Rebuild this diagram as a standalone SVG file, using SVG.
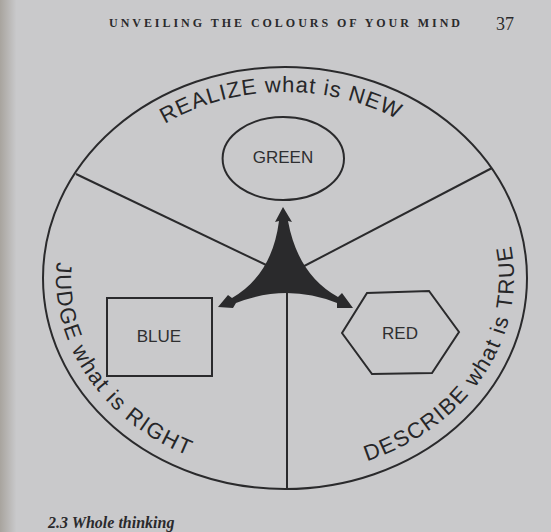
<svg xmlns="http://www.w3.org/2000/svg" width="551" height="532" viewBox="0 0 551 532">
  <defs>
    <style>
      .ln { fill: none; stroke: #2a2a2c; stroke-width: 2; }
      .shape { fill: none; stroke: #2a2a2c; stroke-width: 2; }
      .nodetxt { font-family: "Liberation Sans", Arial, sans-serif; font-size: 17px; fill: #2e2e30; text-anchor: middle; }
      .arc { font-family: "Liberation Sans", Arial, sans-serif; font-size: 22px; fill: #262628; font-kerning: none; }
      .ls { letter-spacing: 1.5px; }
    </style>
    <path id="pTop" d="M164.8,123.8 A215,186 0 0 1 449.7,158.4"/>
    <path id="pLeft" d="M56.8,262 A229,196 0 0 0 285,474"/>
    <path id="pRight" d="M367,461 A229,196 0 0 0 500.2,211"/>
    <linearGradient id="edge" x1="0" y1="0" x2="1" y2="0">
      <stop offset="0" stop-color="#a8a49e"/>
      <stop offset="1" stop-color="#c8c8ca"/>
    </linearGradient>
  </defs>

  <rect x="0" y="0" width="551" height="532" fill="#c9c9cb"/>
  <rect x="0" y="0" width="16" height="532" fill="url(#edge)"/>

  <g id="page-text">
    <text x="109" y="27" font-family="Liberation Serif, serif" font-weight="bold" font-size="12" fill="#2a2a2c" textLength="351" lengthAdjust="spacing">UNVEILING THE COLOURS OF YOUR MIND</text>
    <text x="496" y="30" font-family="Liberation Serif, serif" font-size="18" fill="#2a2a2c">37</text>
    <text x="48" y="528" font-family="Liberation Serif, serif" font-weight="bold" font-style="italic" font-size="16" fill="#2a2a2c">2.3 Whole thinking</text>
  </g>

  <g id="wheel">
    <ellipse class="shape" cx="285" cy="278" rx="242" ry="211"/>
  </g>

  <g id="connectors">
    <line class="ln" x1="76" y1="174" x2="287" y2="275"/>
    <line class="ln" x1="492" y1="168" x2="287" y2="275"/>
    <line class="ln" x1="287" y1="275" x2="287" y2="489"/>
  </g>

  <g id="hub">
    <path fill="#2a2a2c" d="M283,207 L292,222 L288,221 Q298,275 338,297 L342,293 L353,308 L337,308 L337,303 Q287,283 236,303 L233,308 L218,307 L228,295 L232,298 Q272,275 279,221 L275,222 Z"/>
  </g>

  <g id="node-green">
    <ellipse class="shape" cx="283.3" cy="158.5" rx="60.7" ry="41.5"/>
    <text class="nodetxt" x="283" y="163">GREEN</text>
  </g>

  <g id="node-blue">
    <rect class="shape" x="107" y="298" width="105" height="78"/>
    <text class="nodetxt" x="159" y="342">BLUE</text>
  </g>

  <g id="node-red">
    <polygon class="shape" points="342,333 367,293 429,291 459,332 432,373 372,374"/>
    <text class="nodetxt" x="400" y="339">RED</text>
  </g>

  <g id="label-top">
    <text class="arc" letter-spacing="1"><textPath href="#pTop">REALIZE what is NEW</textPath></text>
  </g>
  <g id="label-left">
    <text class="arc ls"><textPath href="#pLeft" startOffset="0">JUDGE</textPath></text>
    <text class="arc ls"><textPath href="#pLeft" startOffset="89.7">what</textPath></text>
    <text class="arc ls"><textPath href="#pLeft" startOffset="149.8">is</textPath></text>
    <text class="arc ls"><textPath href="#pLeft" startOffset="176.3">RIGHT</textPath></text>
  </g>
  <g id="label-right">
    <text class="arc ls"><textPath href="#pRight" startOffset="0">DESCRIBE</textPath></text>
    <text class="arc ls"><textPath href="#pRight" startOffset="132.1">what</textPath></text>
    <text class="arc ls"><textPath href="#pRight" startOffset="192.2">is</textPath></text>
    <text class="arc ls"><textPath href="#pRight" startOffset="218.7">TRUE</textPath></text>
  </g>
</svg>
